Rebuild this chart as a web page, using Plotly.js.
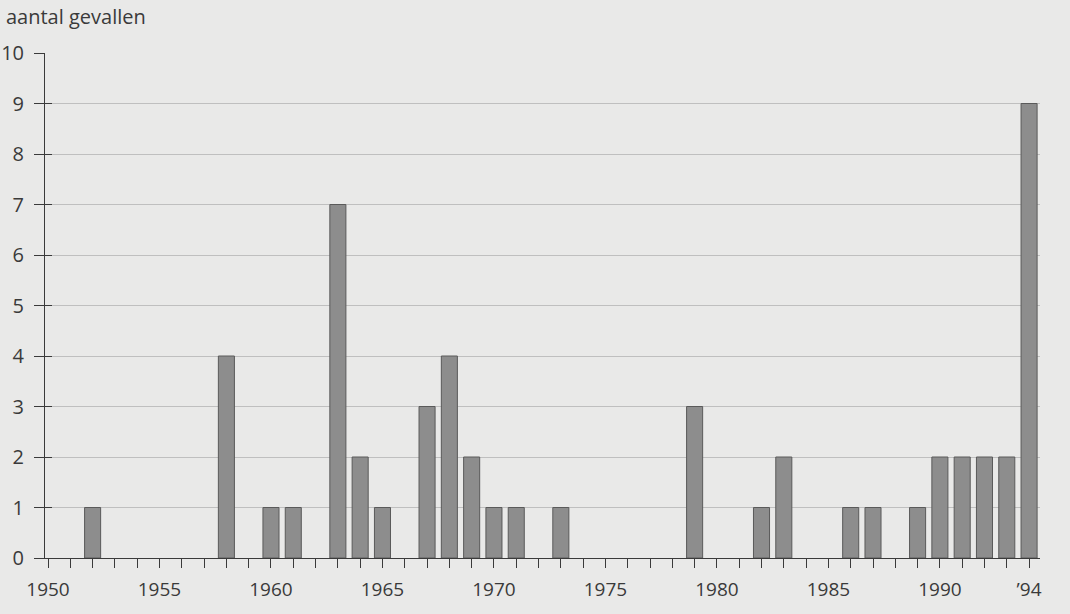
<!DOCTYPE html>
<html>
<head>
<meta charset="utf-8">
<script src="https://cdn.plot.ly/plotly-3.0.1.min.js"></script>
<style>html,body{margin:0;padding:0;background:#e9e9e8;}#chart{width:1070px;height:614px;}</style>
</head>
<body>
<div id="chart"></div>
<script>
// Data
const years  = [1952, 1958, 1960, 1961, 1963, 1964, 1965, 1967, 1968, 1969, 1970, 1971, 1973, 1979, 1982, 1983, 1986, 1987, 1989, 1990, 1991, 1992, 1993, 1994];
const cases  = [1,    4,    1,    1,    7,    2,    1,    3,    4,    2,    1,    1,    1,    3,    1,    2,    1,    1,    1,    2,    2,    2,    2,    9];
const tickYears = [];
for (let y = 1950; y <= 1994; y++) tickYears.push(y);
const labelYears = [1950, 1955, 1960, 1965, 1970, 1975, 1980, 1985, 1990, 1994];
const labelTexts = ['1950', '1955', '1960', '1965', '1970', '1975', '1980', '1985', '1990', '’94'];
const yTicks = [0,1,2,3,4,5,6,7,8,9,10];

const tickText = tickYears.map(y => {
  const i = labelYears.indexOf(y);
  return i >= 0 ? labelTexts[i] : '';
});

const font = {family: 'Open Sans, Noto Sans, sans-serif', color: '#3a3a3a'};

const trace = {
  type: 'bar',
  x: years,
  y: cases,
  width: 0.72,
  marker: {color: '#8d8d8d', line: {color: '#5a5a5a', width: 1}},
  hoverinfo: 'skip'
};

const layout = {
  width: 1070, height: 614,
  paper_bgcolor: '#e9e9e8',
  plot_bgcolor: '#e9e9e8',
  margin: {l: 45, r: 30, t: 53, b: 56},
  showlegend: false,
  title: {
    text: 'aantal gevallen',
    font: Object.assign({}, font, {size: 20}),
    x: 6/1070, xanchor: 'left', xref: 'container',
    y: 1 - 17/614, yanchor: 'middle', yref: 'container'
  },
  xaxis: {
    range: [1949.865, 1994.49],
    tickmode: 'array',
    tickvals: tickYears,
    ticktext: tickText,
    ticks: 'outside', ticklen: 9, tickwidth: 1, tickcolor: '#3a3a3a',
    ticklabelstandoff: 5,
    showline: true, linecolor: '#3a3a3a', linewidth: 1,
    showgrid: false, zeroline: false,
    tickfont: Object.assign({}, font, {size: 19}),
    tickangle: 0
  },
  yaxis: {
    range: [0, 10],
    tickmode: 'array', tickvals: yTicks,
    ticks: 'outside', ticklen: 10, tickwidth: 1, tickcolor: '#3a3a3a',
    ticklabelstandoff: 6,
    showline: true, linecolor: '#3a3a3a', linewidth: 1,
    showgrid: true, gridcolor: '#b4b4b4', gridwidth: 0.8,
    zeroline: false,
    tickfont: Object.assign({}, font, {size: 20})
  },
  yaxis2: {
    overlaying: 'y', side: 'left', matches: 'y',
    range: [0, 10],
    tickmode: 'array', tickvals: yTicks,
    ticks: 'inside', ticklen: 7, tickwidth: 1, tickcolor: '#3a3a3a',
    showticklabels: false, showgrid: false, zeroline: false, showline: false
  }
};

const dummy = {type: 'scatter', x: [1950], y: [0], yaxis: 'y2', mode: 'markers', marker: {opacity: 0}, hoverinfo: 'skip'};

Plotly.newPlot('chart', [trace, dummy], layout, {staticPlot: true});
</script>
</body>
</html>
